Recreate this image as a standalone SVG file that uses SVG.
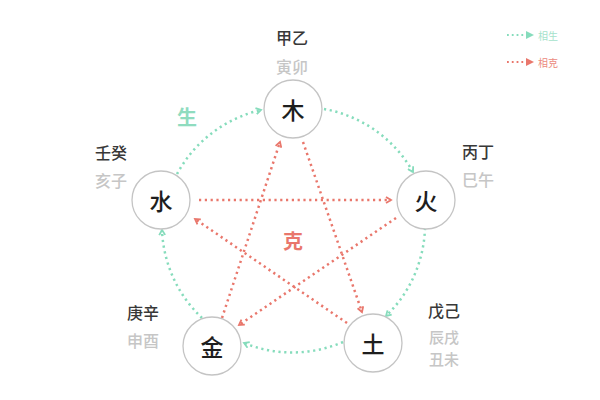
<svg xmlns="http://www.w3.org/2000/svg" width="600" height="400" viewBox="0 0 600 400">
<style>
text{font-family:"Noto Sans CJK SC","Noto Sans CJK JP",sans-serif;text-anchor:middle;dominant-baseline:central}
.node circle{fill:#fff;stroke:#c4c4c4;stroke-width:1.3}
.el{font-size:23px;fill:#1e1e1e;font-weight:500}
.stem{font-size:16px;fill:#383838;font-weight:500}
.branch{font-size:16px;fill:#c6c6c6;font-weight:500}
.br2{font-size:15px;fill:#c6c6c6;font-weight:500}
.sheng{fill:none;stroke:#86dcbc;stroke-width:2.5;stroke-dasharray:2.2 3.6;marker-end:url(#ag)}
.ke{fill:none;stroke:#e9776c;stroke-width:2.5;stroke-dasharray:2.2 3.6;marker-end:url(#ar)}
</style>
<defs>
<marker id="ag" viewBox="0 0 8 8" refX="6" refY="4" markerWidth="8" markerHeight="8" markerUnits="userSpaceOnUse" orient="auto">
<path d="M1,1 L6,4 L1,7" fill="none" stroke="#86dcbc" stroke-width="1.8"/>
</marker>
<marker id="ar" viewBox="0 0 8 8" refX="6" refY="4" markerWidth="8" markerHeight="8" markerUnits="userSpaceOnUse" orient="auto">
<path d="M1,1 L6,4 L1,7" fill="none" stroke="#e9776c" stroke-width="1.8"/>
</marker>
<marker id="agf" viewBox="0 0 8 8" refX="4" refY="4" markerWidth="8" markerHeight="8" markerUnits="userSpaceOnUse" orient="auto">
<path d="M0,0 L8,4 L0,8 Z" fill="#86dcbc"/>
</marker>
<marker id="arf" viewBox="0 0 8 8" refX="4" refY="4" markerWidth="8" markerHeight="8" markerUnits="userSpaceOnUse" orient="auto">
<path d="M0,0 L8,4 L0,8 Z" fill="#e9776c"/>
</marker>
</defs>
<rect width="600" height="400" fill="#fff"/>
<g id="connectors">
<path class="sheng" d="M177,174 A128,128 0 0 1 261,110"/>
<path class="sheng" d="M324,109 A128,128 0 0 1 413,172"/>
<path class="sheng" d="M425,228 A128,128 0 0 1 386,316"/>
<path class="sheng" d="M343,342 A128,128 0 0 1 244,343"/>
<path class="sheng" d="M202,318 A128,128 0 0 1 162,230"/>
<path class="ke" d="M222,318 L280,142"/>
<path class="ke" d="M303,142 L362,312"/>
<path class="ke" d="M347,323 L195,219"/>
<path class="ke" d="M199,200 L391,200"/>
<path class="ke" d="M396,218 L239,325"/>
</g>
<g id="node-mu" class="node"><circle cx="293" cy="109" r="29"/><text class="el" x="293" y="109">木</text><text class="stem" x="292" y="37">甲乙</text><text class="branch" x="292" y="66">寅卯</text></g>
<g id="node-huo" class="node"><circle cx="426" cy="200" r="29"/><text class="el" x="426" y="200">火</text><text class="stem" x="478" y="151">丙丁</text><text class="branch" x="478" y="179">巳午</text></g>
<g id="node-tu" class="node"><circle cx="373" cy="343" r="29"/><text class="el" x="373" y="343">土</text><text class="stem" x="444" y="310">戊己</text><text class="br2" x="444" y="336">辰戌</text><text class="br2" x="444" y="358">丑未</text></g>
<g id="node-jin" class="node"><circle cx="212" cy="346" r="29"/><text class="el" x="212" y="346">金</text><text class="stem" x="143" y="312">庚辛</text><text class="branch" x="143" y="340">申酉</text></g>
<g id="node-shui" class="node"><circle cx="161" cy="200" r="29"/><text class="el" x="161" y="200">水</text><text class="stem" x="111" y="152">壬癸</text><text class="branch" x="111" y="180">亥子</text></g>
<text x="187" y="116" style="font-size:20px;font-weight:bold;fill:#8fdcbf">生</text>
<text x="293" y="240" style="font-size:20px;font-weight:bold;fill:#e9776c">克</text>
<g id="legend">
<path d="M507,35 L530,35" fill="none" stroke="#86dcbc" stroke-width="2" stroke-dasharray="1.8 3" marker-end="url(#agf)"/>
<text x="548" y="35" style="font-size:10px;fill:#a6e2cb">相生</text>
<path d="M507,62 L530,62" fill="none" stroke="#e9776c" stroke-width="2" stroke-dasharray="1.8 3" marker-end="url(#arf)"/>
<text x="548" y="62" style="font-size:10px;fill:#ec8a80">相克</text>
</g>
</svg>
